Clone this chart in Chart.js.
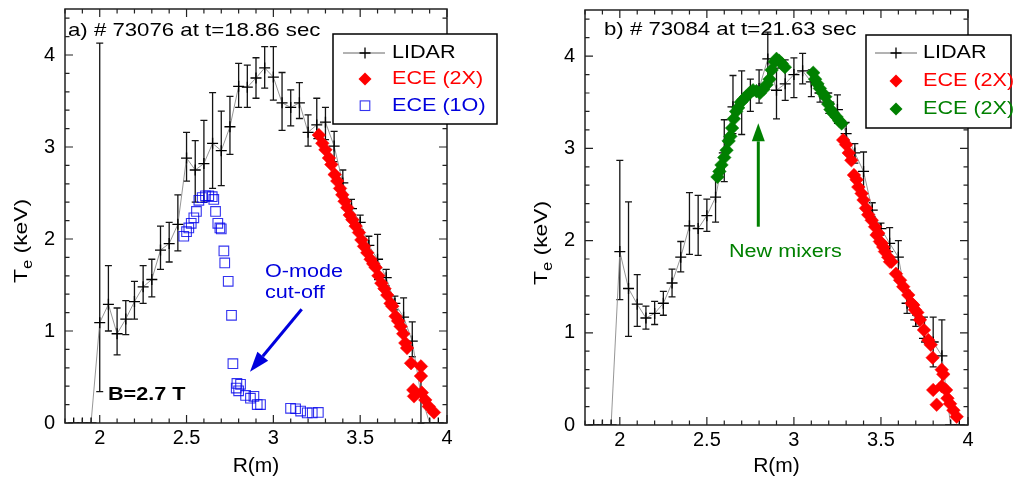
<!DOCTYPE html>
<html><head><meta charset="utf-8">
<script src="https://cdn.jsdelivr.net/npm/chart.js@4.4.1/dist/chart.umd.min.js"></script>
<style>
html,body{margin:0;padding:0;background:#fff;}
body{width:1015px;height:477px;overflow:hidden;position:relative;}
#ca{position:absolute;left:0;top:0;}
#cb{position:absolute;left:507px;top:0;}
</style></head>
<body>
<canvas id="ca" width="507" height="477"></canvas>
<canvas id="cb" width="508" height="477"></canvas>
<script>
const FONT = "'Liberation Sans', Arial, Helvetica, sans-serif";

// ---------- data ----------
const xTickLabels = [2, 2.5, 3, 3.5, 4];
const yTickLabels = [0, 1, 2, 3, 4];

const lidarR = [1.85,1.9,1.95,2.0,2.05,2.1,2.15,2.2,2.25,2.3,2.35,2.4,2.45,2.5,2.55,2.6,2.65,2.7,2.75,2.8,2.85,2.9,2.95,3.0,3.05,3.1,3.15,3.2,3.25,3.3,3.35,3.4,3.45,3.5,3.55,3.6,3.65,3.7,3.75,3.8,3.85,3.9,3.95];

// panel a (#73076)
const lidarA_Te = [0,0,0,1.09,1.29,0.97,1.13,1.32,1.48,1.56,1.88,1.95,2.16,2.88,2.75,2.82,3.04,2.96,3.22,3.66,3.65,3.75,3.86,3.76,3.48,3.43,3.48,3.16,3.24,3.27,3.01,2.61,2.33,2.18,1.93,1.78,1.58,1.30,1.15,0.89,0.30,0,0];
const lidarA_lo = [null,null,null,0.34,1.00,0.74,0.96,1.13,1.30,1.37,1.67,1.75,1.87,2.63,2.40,2.40,2.55,2.58,2.92,3.43,3.43,3.53,3.64,3.51,3.18,3.23,3.31,3.01,3.09,3.08,2.84,2.46,2.25,2.10,1.81,1.56,1.49,1.23,1.01,0.72,0.00,null,null];
const lidarA_hi = [null,null,null,4.13,1.71,1.25,1.33,1.54,1.71,1.78,2.14,2.18,2.48,3.16,3.07,3.29,3.59,3.39,3.55,3.91,3.89,3.97,4.09,4.09,3.81,3.62,3.70,3.35,3.53,3.43,3.17,2.75,2.43,2.26,2.03,2.05,1.67,1.38,1.36,1.10,0.62,null,null];

const eceA2X_R = [3.262,3.282,3.30,3.32,3.334,3.353,3.368,3.384,3.397,3.41,3.426,3.44,3.455,3.474,3.493,3.507,3.522,3.541,3.56,3.575,3.589,3.605,3.622,3.64,3.656,3.675,3.685,3.704,3.718,3.733,3.748,3.76,3.77,3.793,3.806,3.81,3.85,3.85,3.855,3.875,3.895,3.925];
const eceA2X_Te = [3.13,3.04,2.97,2.88,2.81,2.70,2.63,2.55,2.48,2.41,2.34,2.26,2.21,2.14,2.07,1.99,1.92,1.85,1.78,1.73,1.69,1.60,1.52,1.46,1.39,1.30,1.27,1.16,1.11,1.05,0.97,0.87,0.815,0.65,0.36,0.29,0.615,0.51,0.33,0.25,0.18,0.115];

const eceA1O_R = [2.484,2.50,2.513,2.527,2.542,2.557,2.571,2.59,2.609,2.628,2.648,2.657,2.667,2.68,2.692,2.70,2.715,2.72,2.74,2.759,2.767,2.786,2.79,2.80,2.811,2.84,2.868,2.888,2.907,2.926,3.099,3.128,3.157,3.195,3.224,3.259];
const eceA1O_Te = [2.03,2.08,2.12,2.17,2.23,2.30,2.42,2.45,2.47,2.47,2.46,2.43,2.30,2.17,2.12,2.11,1.87,1.74,1.54,1.17,0.645,0.38,0.43,0.35,0.42,0.30,0.27,0.29,0.20,0.20,0.16,0.155,0.13,0.11,0.11,0.115];

// panel b (#73084)
const lidarB_Te = [0,0,0,1.88,1.48,1.31,1.16,1.21,1.32,1.54,1.82,2.16,2.13,2.27,2.47,2.95,3.45,3.50,3.58,3.65,3.97,3.63,3.70,3.80,3.84,3.72,3.60,3.50,3.42,3.16,2.95,2.75,2.33,2.13,1.97,1.82,1.32,1.14,0.94,0.90,0.75,0,0];
const lidarB_lo = [null,null,null,1.36,0.96,1.07,1.04,1.09,1.19,1.39,1.66,1.85,1.84,2.10,2.20,2.64,3.16,3.15,3.40,3.49,3.74,3.32,3.52,3.55,3.70,3.56,3.50,3.38,3.27,3.04,2.84,2.42,2.26,2.06,1.88,1.64,1.21,1.07,0.90,0.63,0.45,null,null];
const lidarB_hi = [null,null,null,2.87,2.42,1.63,1.29,1.34,1.45,1.69,1.99,2.52,2.49,2.45,2.69,3.31,3.79,3.84,3.75,3.85,4.26,3.87,3.96,3.98,4.03,3.85,3.69,3.60,3.58,3.28,3.05,2.96,2.41,2.19,2.14,2.00,1.46,1.19,1.17,1.17,1.14,null,null];

const eceB2X_R = [3.283,3.30,3.315,3.33,3.345,3.36,3.37,3.389,3.40,3.414,3.427,3.447,3.466,3.475,3.485,3.494,3.504,3.513,3.523,3.542,3.552,3.561,3.586,3.61,3.628,3.657,3.676,3.686,3.695,3.709,3.724,3.747,3.772,3.786,3.797,3.80,3.82,3.849,3.849,3.858,3.874,3.882,3.897,3.916,3.935];
const eceB2X_Te = [3.09,3.04,2.95,2.87,2.71,2.66,2.58,2.51,2.44,2.35,2.28,2.22,2.15,2.06,2.08,1.99,1.97,1.93,1.88,1.82,1.77,1.77,1.64,1.57,1.50,1.41,1.32,1.30,1.25,1.22,1.14,1.03,0.92,0.87,0.73,0.38,0.22,0.60,0.42,0.55,0.38,0.29,0.23,0.16,0.09];

const eceBnew_R = [2.561,2.572,2.584,2.60,2.613,2.625,2.635,2.645,2.655,2.668,2.68,2.695,2.71,2.725,2.745,2.765,2.785,2.805,2.825,2.843,2.86,2.872,2.89,2.90,2.915,2.93,2.948,3.111,3.122,3.135,3.149,3.165,3.18,3.197,3.21,3.225,3.245,3.26,3.274];
const eceBnew_Te = [2.69,2.75,2.82,2.90,2.98,3.08,3.13,3.22,3.32,3.40,3.44,3.50,3.53,3.56,3.60,3.63,3.62,3.60,3.64,3.69,3.75,3.85,3.94,3.97,3.95,3.92,3.88,3.82,3.75,3.70,3.65,3.60,3.56,3.48,3.42,3.38,3.34,3.30,3.27];

// ---------- colours ----------
const RED = '#ff0000', GREEN = '#008000', BLUE = '#0000dd', SQBLUE = 'rgba(0,0,235,0.8)';
const DIAM_R = 6.8;

function pts(xs, ys){ return xs.map((x,i)=>({x:x, y:ys[i]})); }

// ---------- drawing helpers ----------
function txt(ctx, s, x, y, o){
  ctx.save();
  ctx.font = (o.bold ? 'bold ' : '') + o.size + 'px ' + FONT;
  ctx.fillStyle = o.color || '#000';
  ctx.textBaseline = 'middle';
  ctx.textAlign = 'left';
  ctx.translate(x, y);
  ctx.scale(o.sx || 1.2, 1);
  ctx.fillText(s, 0, 0);
  ctx.restore();
}
function arrow(ctx, x1, y1, x2, y2, color, lw, hl, hw){
  const a = Math.atan2(y2-y1, x2-x1);
  const bx = x2 - hl*Math.cos(a), by = y2 - hl*Math.sin(a);
  ctx.save();
  ctx.strokeStyle = color; ctx.fillStyle = color; ctx.lineWidth = lw;
  ctx.beginPath(); ctx.moveTo(x1,y1); ctx.lineTo(bx,by); ctx.stroke();
  ctx.beginPath(); ctx.moveTo(x2,y2);
  ctx.lineTo(bx + hw/2*Math.sin(a), by - hw/2*Math.cos(a));
  ctx.lineTo(bx - hw/2*Math.sin(a), by + hw/2*Math.cos(a));
  ctx.closePath(); ctx.fill();
  ctx.restore();
}
function yTitle(ctx, xBase, yStart){
  ctx.save();
  ctx.translate(xBase, yStart);
  ctx.rotate(-Math.PI/2);
  ctx.scale(1.2, 1);
  ctx.fillStyle = '#000';
  ctx.textBaseline = 'alphabetic';
  ctx.textAlign = 'left';
  ctx.font = '19px ' + FONT;
  ctx.fillText('T', 0, 0);
  let w = ctx.measureText('T').width;
  ctx.font = '14px ' + FONT;
  ctx.fillText('e', w, 5);
  w += ctx.measureText('e').width;
  ctx.font = '19px ' + FONT;
  ctx.fillText(' (keV)', w, 0);
  ctx.restore();
}
function crossMark(ctx, x, y, r){
  ctx.save(); ctx.strokeStyle = '#000'; ctx.lineWidth = 1.3;
  ctx.beginPath(); ctx.moveTo(x-r,y); ctx.lineTo(x+r,y); ctx.moveTo(x,y-r); ctx.lineTo(x,y+r); ctx.stroke();
  ctx.restore();
}
function diamond(ctx, x, y, r, c){
  ctx.save(); ctx.fillStyle = c;
  ctx.beginPath(); ctx.moveTo(x, y-r); ctx.lineTo(x+r, y); ctx.lineTo(x, y+r); ctx.lineTo(x-r, y); ctx.closePath(); ctx.fill();
  ctx.restore();
}
function legendBox(ctx, off, L){
  ctx.save();
  const b = L.box;
  ctx.fillStyle = '#fff';
  ctx.fillRect(b[0]-off, b[1], b[2]-b[0], b[3]-b[1]);
  ctx.strokeStyle = '#000'; ctx.lineWidth = 1.5;
  ctx.strokeRect(b[0]-off, b[1], b[2]-b[0], b[3]-b[1]);
  L.rows.forEach(r => {
    const sx = L.symX - off;
    if (r.kind === 'lidar'){
      ctx.strokeStyle = '#666'; ctx.lineWidth = 1;
      ctx.beginPath(); ctx.moveTo(L.line[0]-off, r.y); ctx.lineTo(L.line[1]-off, r.y); ctx.stroke();
      crossMark(ctx, sx, r.y, 5.5);
    } else if (r.kind === 'diamond'){
      diamond(ctx, sx, r.y, 6.5, r.color);
    } else {
      ctx.strokeStyle = SQBLUE; ctx.lineWidth = 1.1;
      ctx.strokeRect(sx-4.8, r.y-4.8, 9.6, 9.6);
    }
    txt(ctx, r.text, L.textX - off, r.y, {size:18, color:r.color});
  });
  ctx.restore();
}

function drawErrorBars(chart, xs, lo, hi){
  const sx = chart.scales.x, sy = chart.scales.y, ctx = chart.ctx;
  ctx.save();
  ctx.strokeStyle = '#141414'; ctx.lineWidth = 1.3;
  for (let i = 0; i < xs.length; i++){
    if (lo[i] === null || hi[i] === null) continue;
    const x = sx.getPixelForValue(xs[i]);
    const y1 = sy.getPixelForValue(lo[i]), y2 = sy.getPixelForValue(hi[i]);
    ctx.beginPath();
    ctx.moveTo(x, y1); ctx.lineTo(x, y2);
    ctx.moveTo(x-3.5, y1); ctx.lineTo(x+3.5, y1);
    ctx.moveTo(x-3.5, y2); ctx.lineTo(x+3.5, y2);
    ctx.stroke();
  }
  ctx.restore();
}
function drawFrame(chart){
  const a = chart.chartArea, ctx = chart.ctx, sx = chart.scales.x, sy = chart.scales.y;
  ctx.save();
  ctx.strokeStyle = '#222'; ctx.lineWidth = 1.5;
  ctx.strokeRect(a.left, a.top, a.right - a.left, a.bottom - a.top);
  ctx.lineWidth = 1.2;
  ctx.beginPath();
  for (let i = 18; i <= 40; i++){
    const x = sx.getPixelForValue(i/10);
    const len = (i % 5 === 0) ? 8 : 4.5;
    ctx.moveTo(x, a.bottom); ctx.lineTo(x, a.bottom - len);
    ctx.moveTo(x, a.top); ctx.lineTo(x, a.top + len);
  }
  for (let i = 0; i <= 22; i++){
    const y = sy.getPixelForValue(i*0.2);
    const len = (i % 5 === 0) ? 8 : 4.5;
    ctx.moveTo(a.left, y); ctx.lineTo(a.left + len, y);
    ctx.moveTo(a.right, y); ctx.lineTo(a.right - len, y);
  }
  ctx.stroke();
  ctx.restore();
}

function lidarDataset(te){
  return {
    label:'LIDAR', data: pts(lidarR, te), showLine:true,
    borderColor:'#8a8a8a', borderWidth:0.9,
    pointStyle:'cross', pointRadius:5.5, pointHoverRadius:5.5,
    pointBorderColor:'#000', pointBorderWidth:1.3, order:3
  };
}
function diamondDataset(label, xs, ys, c){
  return {
    label:label, data: pts(xs, ys), showLine:false,
    pointStyle:'rectRot', pointRadius:DIAM_R, pointHoverRadius:DIAM_R,
    pointBackgroundColor:c, pointBorderColor:c, pointBorderWidth:0.5, order:1
  };
}

function build(id, geo, datasets, err, annot){
  const plugin = {
    id: 'custom_' + id,
    beforeDatasetsDraw(chart){ drawErrorBars(chart, lidarR, err.lo, err.hi); },
    afterDraw(chart){ drawFrame(chart); annot(chart.ctx, geo.off); }
  };
  return new Chart(document.getElementById(id), {
    type:'scatter',
    data:{ datasets: datasets },
    options:{
      responsive:false, animation:false, devicePixelRatio:1,
      layout:{ padding:{ left:0, top:geo.top, right:geo.W - geo.right, bottom:0 } },
      plugins:{ legend:{display:false}, tooltip:{enabled:false} },
      events:[],
      scales:{
        x:{
          type:'linear', position:'bottom', min:1.8, max:4.0,
          afterBuildTicks: s => { s.ticks = xTickLabels.map(v => ({value:v})); },
          afterFit: s => { s.height = geo.H - geo.bottom; s.paddingLeft = 0; s.paddingRight = 0; },
          grid:{ display:false, drawTicks:false }, border:{ display:false },
          ticks:{ font:{family:FONT, size:20}, color:'#000', padding:3, maxRotation:0, autoSkip:false,
                  callback: v => String(v) },
          title:{ display:true, text:'R(m)', color:'#000', font:{family:FONT, size:21, lineHeight:1}, padding:0 }
        },
        y:{
          type:'linear', position:'left', min:0, max:4.5,
          afterBuildTicks: s => { s.ticks = yTickLabels.map(v => ({value:v})); },
          afterFit: s => { s.width = geo.left; s.paddingTop = 0; s.paddingBottom = 0; },
          grid:{ display:false, drawTicks:false }, border:{ display:false },
          ticks:{ font:{family:FONT, size:20}, color:'#000', padding:10, autoSkip:false,
                  callback: v => String(v) }
        }
      }
    },
    plugins:[plugin]
  });
}

// ---------- panel a ----------
build('ca', {W:507, H:477, left:65, right:447, top:9, bottom:423, off:0},
  [
    diamondDataset('ECE (2X)', eceA2X_R, eceA2X_Te, RED),
    { label:'ECE (1O)', data: pts(eceA1O_R, eceA1O_Te), showLine:false,
      pointStyle:'rect', pointRadius:6.8, pointHoverRadius:6.8,
      pointBackgroundColor:'rgba(0,0,0,0)', pointBorderColor:SQBLUE, pointBorderWidth:1.1, order:2 },
    lidarDataset(lidarA_Te)
  ],
  {lo:lidarA_lo, hi:lidarA_hi},
  (ctx, off) => {
    txt(ctx, 'a) # 73076 at t=18.86 sec', 68 - off, 30.5, {size:18.5});
    txt(ctx, 'O-mode', 265 - off, 271.7, {size:18, color:BLUE});
    txt(ctx, 'cut-off', 265 - off, 293, {size:18, color:BLUE});
    arrow(ctx, 301.7 - off, 309.3, 250 - off, 371.7, BLUE, 3, 20, 14);
    txt(ctx, 'B=2.7 T', 108 - off, 395, {size:18, bold:true});
    yTitle(ctx, 27 - off, 283);
    legendBox(ctx, off, {
      box:[333, 34, 497, 124], symX:365, line:[343, 385], textX:392,
      rows:[
        {kind:'lidar', y:53, text:'LIDAR', color:'#000'},
        {kind:'diamond', y:79, text:'ECE (2X)', color:RED},
        {kind:'square', y:105.7, text:'ECE (1O)', color:BLUE}
      ]
    });
  });

// ---------- panel b ----------
build('cb', {W:508, H:477, left:78, right:461, top:10, bottom:425, off:507},
  [
    diamondDataset('ECE (2X)', eceB2X_R, eceB2X_Te, RED),
    diamondDataset('ECE (2X) new', eceBnew_R, eceBnew_Te, GREEN),
    lidarDataset(lidarB_Te)
  ],
  {lo:lidarB_lo, hi:lidarB_hi},
  (ctx, off) => {
    txt(ctx, 'b) # 73084 at t=21.63 sec', 604 - off, 29.5, {size:18.5});
    arrow(ctx, 758.3 - off, 226.7, 758.3 - off, 123.3, GREEN, 3, 18, 13);
    txt(ctx, 'New mixers', 729 - off, 251.7, {size:18, color:GREEN});
    yTitle(ctx, 547 - off, 285);
    legendBox(ctx, off, {
      box:[866, 35, 1011, 128], symX:896, line:[875, 917], textX:923,
      rows:[
        {kind:'lidar', y:53, text:'LIDAR', color:'#000'},
        {kind:'diamond', y:81, text:'ECE (2X)', color:RED},
        {kind:'diamond', y:109, text:'ECE (2X)', color:GREEN}
      ]
    });
  });
</script>
</body></html>
